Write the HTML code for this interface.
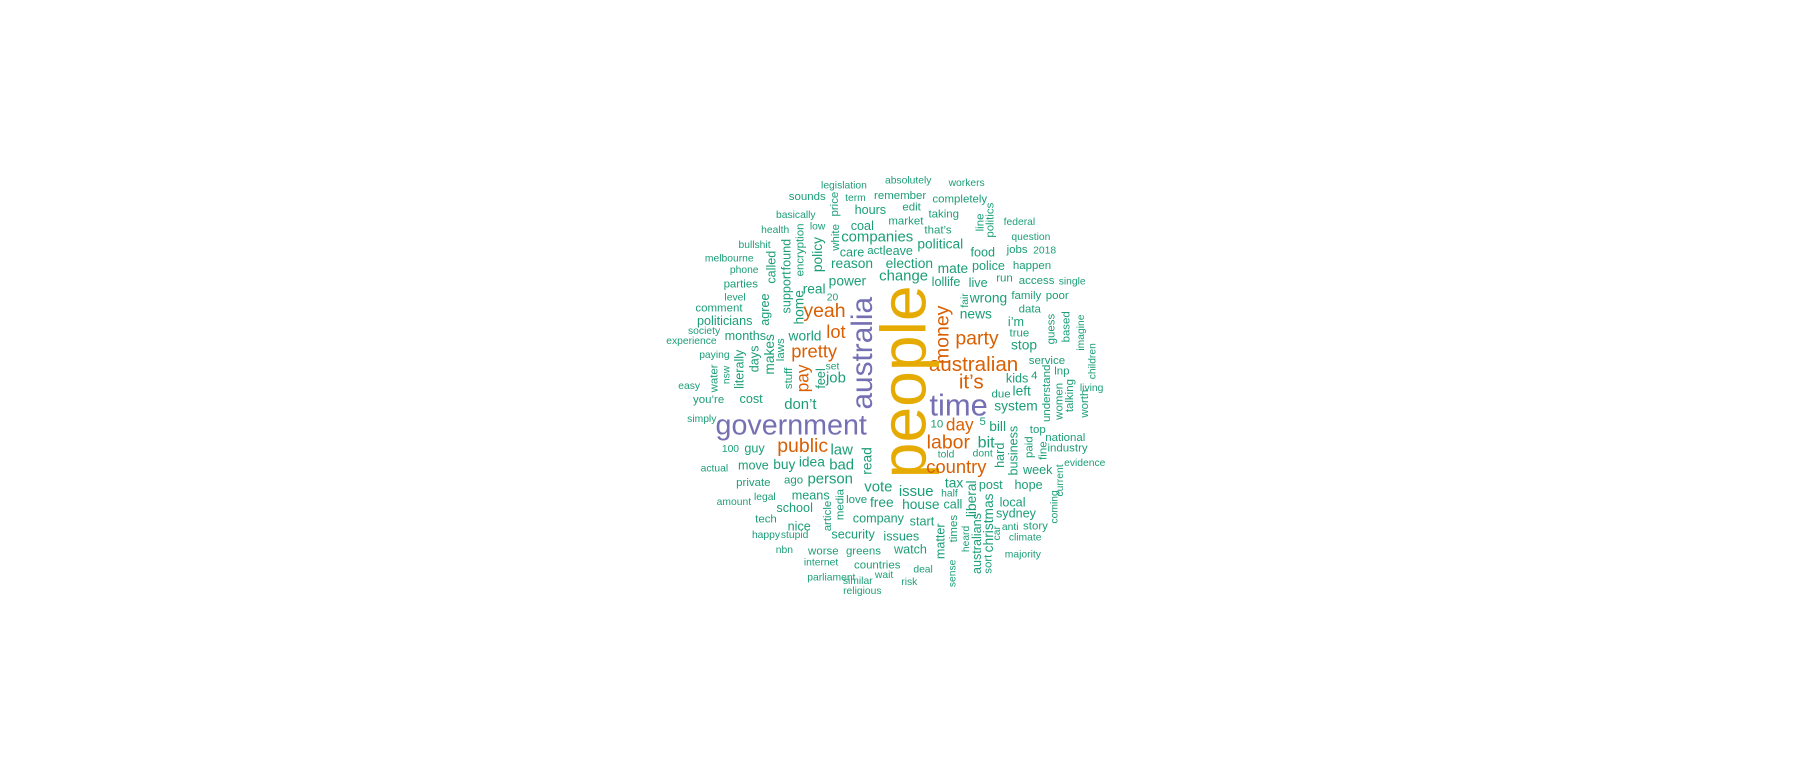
<!DOCTYPE html>
<html><head><meta charset="utf-8"><style>
html,body{margin:0;padding:0;background:#fff;width:1798px;height:765px;overflow:hidden}
#wrap{position:absolute;left:0;top:0;width:1568px;height:667px;transform-origin:0 0;transform:scale(1.1467)}
svg text{font-family:"Liberation Sans",Arial,sans-serif}
</style></head><body>
<div id="wrap">
<svg id="cloud" width="1568" height="667"></svg>
</div>
<script>
const words = ["legislation","absolutely","workers","sounds","term","remember","completely","price","hours","edit","taking","basically","line","politics","federal","coal","market","health","low","white","encryption","that’s","question","companies","policy","bullshit","political","care","act","leave","food","jobs","2018","melbourne","called","found","support","reason","election","mate","police","happen","phone","parties","power","change","lollife","live","run","access","single","real","home","agree","level","20","fair","wrong","family","poor","yeah","comment","money","news","data","politicians","i’m","guess","based","imagine","lot","months","true","world","society","experience","party","stop","makes","laws","pretty","paying","literally","days","children","australian","service","water","nsw","stuff","pay","feel","set","job","lnp","understand","it’s","kids","4","easy","talking","women","worth","living","due","left","you’re","cost","don’t","time","system","simply","government","australia","people","10","day","5","bill","national","industry","business","paid","top","fine","labor","bit","100","guy","public","law","read","hard","told","dont","evidence","actual","move","buy","idea","bad","country","week","person","private","ago","vote","tax","post","hope","current","coming","liberal","issue","half","legal","means","media","article","love","free","amount","school","house","call","local","company","sydney","christmas","sort","tech","start","nice","anti","story","car","climate","happy","stupid","security","issues","matter","times","heard","australians","nbn","worse","greens","watch","majority","internet","countries","deal","sense","parliament","similar","wait","risk","religious"];
const sizes = [9,9,9,10,9,10,10,10,11,10,10,9,10,10,9,11,10,9,9,10,10,10,9,13,12,9,12,11,10,11,11,10,9,9,11,11,11,12,12,12,11,10,9,10,12,13,11,11,10,10,9,12,12,11,9,9,9,12,10,10,17,10,17,12,10,11,11,10,10,9,16,11,10,12,9,9,17,12,12,10,16,9,11,11,9,18,10,10,9,10,15,11,9,13,10,10,18,11,10,9,10,10,10,9,10,12,10,11,13,27,12,9,25,26,56,10,15,10,12,10,10,11,10,10,10,17,14,9,11,17,13,12,11,9,9,9,9,11,12,12,13,16,11,13,10,10,13,12,11,11,9,9,12,13,9,9,11,10,10,10,12,9,11,12,11,11,11,11,12,10,10,11,11,9,10,9,9,9,9,11,11,11,10,9,11,9,10,10,11,9,9,10,9,9,9,9,9,9,9];
const colorIdx = {"yeah":1,"money":1,"lot":1,"party":1,"pretty":1,"australian":1,"pay":1,"it’s":1,"day":1,"labor":1,"public":1,"country":1,"time":2,"government":2,"australia":2,"people":3};
const palette = ["#1b9e77","#d95f02","#7570b3","#e6ab02"];
// layout positions [cx, cy, rotated]
const layout = [[736,162,0],[792,158,0],[843,160,0],[704,172,0],[746,173,0],[785,171,0],[837,174,0],[728,178,1],[759,183,0],[795,181,0],[823,187,0],[694,188,0],[855,194,1],[864,192,1],[889,194,0],[752,197,0],[790,193,0],[676,201,0],[713,198,0],[729,207,1],[698,218,1],[818,201,0],[899,207,0],[765,207,0],[713,222,1],[658,214,0],[820,213,0],[743,220,0],[763,219,0],[783,219,0],[857,220,0],[887,218,0],[911,219,0],[636,226,0],[673,233,1],[686,222,1],[686,255,1],[743,230,0],[793,230,0],[831,234,0],[862,232,0],[900,232,0],[649,236,0],[646,248,0],[739,245,0],[788,241,0],[825,246,0],[853,247,0],[876,243,0],[904,245,0],[935,246,0],[710,252,0],[697,268,1],[667,270,1],[641,260,0],[726,260,0],[842,262,1],[862,260,0],[895,258,0],[922,258,0],[719,271,0],[627,269,0],[822,292,1],[851,274,0],[898,270,0],[632,280,0],[886,281,0],[917,287,1],[930,285,1],[943,290,1],[729,289,0],[650,293,0],[889,291,0],[702,293,0],[614,289,0],[603,298,0],[852,295,0],[893,301,0],[671,309,1],[681,305,1],[710,306,0],[623,310,0],[645,322,1],[658,313,1],[953,315,1],[849,318,0],[913,315,0],[623,330,1],[634,327,1],[688,330,1],[700,330,1],[716,330,1],[726,320,0],[729,330,0],[926,324,0],[913,343,1],[847,333,0],[887,330,0],[902,328,0],[601,337,0],[933,345,1],[924,350,1],[946,352,1],[952,339,0],[873,344,0],[891,341,0],[618,349,0],[655,348,0],[698,353,0],[836,353,0],[886,354,0],[612,366,0],[690,371,0],[752,308,1],[788,333,1],[817,370,0],[837,370,0],[857,368,0],[870,372,0],[929,382,0],[931,391,0],[884,393,1],[898,390,1],[905,375,0],[910,393,1],[827,386,0],[860,386,0],[637,392,0],[658,391,0],[700,389,0],[734,393,0],[756,402,1],[872,397,1],[825,397,0],[857,396,0],[946,404,0],[623,409,0],[657,406,0],[684,405,0],[708,403,0],[734,406,0],[834,407,0],[905,410,0],[724,418,0],[657,421,0],[692,419,0],[766,425,0],[832,421,0],[864,423,0],[897,423,0],[925,419,1],[920,442,1],[847,435,1],[799,429,0],[828,431,0],[667,434,0],[707,432,0],[733,440,1],[722,450,1],[747,436,0],[769,438,0],[640,438,0],[693,443,0],[803,440,0],[831,440,0],[883,438,0],[766,452,0],[886,448,0],[862,456,1],[862,492,1],[668,453,0],[804,455,0],[697,459,0],[881,460,0],[903,459,0],[870,465,1],[894,469,0],[668,467,0],[693,467,0],[744,466,0],[786,468,0],[820,472,1],[832,461,1],[843,470,1],[852,474,1],[684,480,0],[718,481,0],[753,481,0],[794,479,0],[892,484,0],[716,491,0],[765,493,0],[805,497,0],[831,500,1],[725,504,0],[748,507,0],[771,502,0],[793,508,0],[752,516,0]];
const svg = document.getElementById('cloud');
const NS = "http://www.w3.org/2000/svg";
words.forEach((w, i) => {
  const p = layout[i];
  const t = document.createElementNS(NS, 'text');
  
  
  t.setAttribute('x', p[0]);
  t.setAttribute('y', p[1]);
  t.setAttribute('text-anchor', 'middle');
  t.setAttribute('dominant-baseline', 'central');
  t.setAttribute('font-size', sizes[i]);
  t.setAttribute('fill', palette[colorIdx[w] || 0]);
  if (p[2]) t.setAttribute('transform', 'rotate(-90 ' + p[0] + ' ' + p[1] + ')');
  t.textContent = w;
  svg.appendChild(t);
});
</script>
</body></html>
